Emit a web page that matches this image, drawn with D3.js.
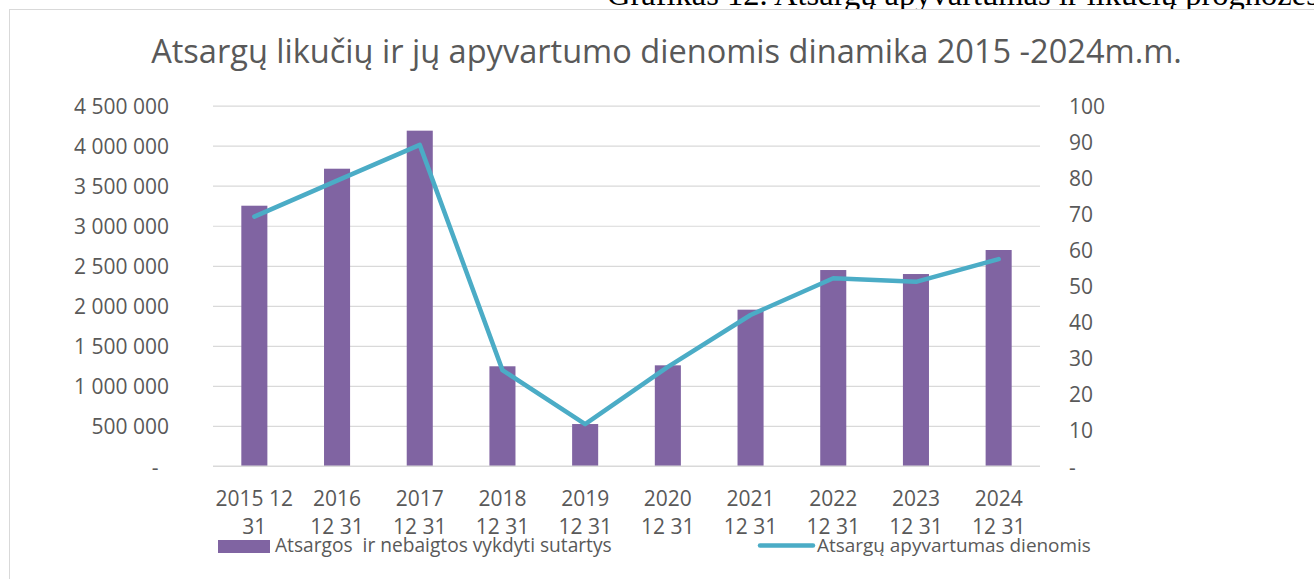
<!DOCTYPE html>
<html>
<head>
<meta charset="utf-8">
<script src="https://cdn.jsdelivr.net/npm/d3@7"></script>
<style>
  html, body { margin: 0; padding: 0; background: #fff; }
  svg { display: block; }
  text { font-family: "Open Sans", "DejaVu Sans", sans-serif; fill: #595959; }
</style>
</head>
<body>
<svg id="chart" width="1314" height="579"></svg>
<script>
// ---- data ----
const categories = ["2015 12 31", "2016 12 31", "2017 12 31", "2018 12 31", "2019 12 31",
                    "2020 12 31", "2021 12 31", "2022 12 31", "2023 12 31", "2024 12 31"];
const categoryLines = [["2015 12", "31"], ["2016", "12 31"], ["2017", "12 31"], ["2018", "12 31"],
                       ["2019", "12 31"], ["2020", "12 31"], ["2021", "12 31"], ["2022", "12 31"],
                       ["2023", "12 31"], ["2024", "12 31"]];
const inventory = [3250000, 3712000, 4187000, 1245000, 524000, 1257000, 1952000, 2447000, 2397000, 2697000];
const turnoverDays = [69.2, 79.2, 89.1, 26.6, 11.6, 27.5, 41.9, 52.1, 51.1, 57.4];
const leftTicks = [0, 500000, 1000000, 1500000, 2000000, 2500000, 3000000, 3500000, 4000000, 4500000];
const rightTicks = [0, 10, 20, 30, 40, 50, 60, 70, 80, 90, 100];
const seriesNames = ["Atsargos  ir nebaigtos vykdyti sutartys", "Atsargų apyvartumas dienomis"];
const titleText = "Atsargų likučių ir jų apyvartumo dienomis dinamika 2015 -2024m.m.";
const headerText = "Grafikas 12. Atsargų apyvartumas ir likučių prognozės";

// ---- setup ----
const svg = d3.select("#chart");
const barColor = "#8064A2", lineColor = "#4BACC6", gridColor = "#D9D9D9";

const plot = { left: 213, right: 1040, top: 105.6, bottom: 466 };

const x = d3.scaleBand().domain(categories).range([plot.left, plot.right])
  .paddingInner(0.685).paddingOuter(0.3425);
const yL = d3.scaleLinear().domain([0, 4500000]).range([plot.bottom, plot.top]);
const yR = d3.scaleLinear().domain([0, 100]).range([plot.bottom, plot.top]);

const locale = d3.formatLocale({ decimal: ",", thousands: " ", grouping: [3], currency: ["", ""] });
const fmt = locale.format(",d");

function fit(sel, target) {
  const w = sel.node().getComputedTextLength();
  const fs = parseFloat(sel.attr("font-size"));
  sel.attr("font-size", fs * target / w);
}

// header text (document caption, cut off at top)
const header = svg.append("text").attr("x", 607).attr("y", 5)
  .attr("font-size", 27)
  .style("font-family", '"Liberation Serif", "Times New Roman", serif')
  .style("fill", "#000")
  .text(headerText);
fit(header, 712);

// chart frame
svg.append("rect").attr("x", 9.5).attr("y", 9.5).attr("width", 1400).attr("height", 700)
  .attr("fill", "#fff").attr("stroke", gridColor).attr("stroke-width", 1);

// title
const title = svg.append("text").attr("x", 666.5).attr("y", 63)
  .attr("text-anchor", "middle").attr("font-size", 27).text(titleText);
fit(title, 1031);

// gridlines via left axis
const gridAxis = d3.axisLeft(yL).tickValues(leftTicks).tickSize(-(plot.right - plot.left)).tickFormat("");
const grid = svg.append("g").attr("transform", `translate(${plot.left},0)`).call(gridAxis);
grid.select(".domain").remove();
grid.selectAll(".tick line").attr("stroke", gridColor).attr("stroke-width", 1.2);

// left axis labels
const leftAxis = d3.axisLeft(yL).tickValues(leftTicks).tickSize(0).tickPadding(0)
  .tickFormat(d => d === 0 ? "-\u2002" : fmt(d));
const la = svg.append("g").attr("transform", `translate(169,0)`).call(leftAxis);
la.select(".domain").remove();
la.selectAll(".tick text").attr("font-size", 21).attr("font-family", null)
  .attr("fill", "#595959").attr("dy", null).attr("y", 8).style("white-space", "pre");

// right axis labels
const rightAxis = d3.axisRight(yR).tickValues(rightTicks).tickSize(0).tickPadding(0)
  .tickFormat(d => d === 0 ? "-" : d);
const ra = svg.append("g").attr("transform", `translate(1069,0)`).call(rightAxis);
ra.select(".domain").remove();
ra.selectAll(".tick text").attr("font-size", 21).attr("font-family", null)
  .attr("fill", "#595959").attr("dy", null).attr("y", 8);

// bars
svg.append("g").selectAll("rect").data(categories).join("rect")
  .attr("x", d => x(d)).attr("width", x.bandwidth())
  .attr("y", (d, i) => yL(inventory[i]))
  .attr("height", (d, i) => yL(0) - yL(inventory[i]))
  .attr("fill", barColor);

// baseline gridline over bar bottoms
svg.append("line").attr("x1", plot.left).attr("x2", plot.right)
  .attr("y1", yL(0)).attr("y2", yL(0)).attr("stroke", gridColor).attr("stroke-width", 1.2);

// line
const line = d3.line().x((d, i) => x(categories[i]) + x.bandwidth() / 2).y(d => yR(d));
svg.append("path").datum(turnoverDays).attr("d", line)
  .attr("fill", "none").attr("stroke", lineColor).attr("stroke-width", 4.5)
  .attr("stroke-linejoin", "round").attr("stroke-linecap", "round");

// category labels
const cat = svg.append("g").selectAll("text").data(categories).join("text")
  .attr("text-anchor", "middle").attr("font-size", 21)
  .attr("x", d => x(d) + x.bandwidth() / 2);
cat.each(function (d, i) {
  const t = d3.select(this);
  categoryLines[i].forEach((ln, j) => {
    t.append("tspan").attr("x", x(d) + x.bandwidth() / 2).attr("y", 506 + j * 28).text(ln);
  });
});

// legend
svg.append("rect").attr("x", 218).attr("y", 540).attr("width", 52).attr("height", 13).attr("fill", barColor);
const l1 = svg.append("text").attr("x", 275).attr("y", 552).attr("font-size", 19)
  .style("white-space", "pre").text(seriesNames[0]);
fit(l1, 337);
svg.append("line").attr("x1", 760).attr("x2", 813).attr("y1", 545.5).attr("y2", 545.5)
  .attr("stroke", lineColor).attr("stroke-width", 4.5).attr("stroke-linecap", "round");
const l2 = svg.append("text").attr("x", 817).attr("y", 552).attr("font-size", 19).text(seriesNames[1]);
fit(l2, 274);
</script>
</body>
</html>
